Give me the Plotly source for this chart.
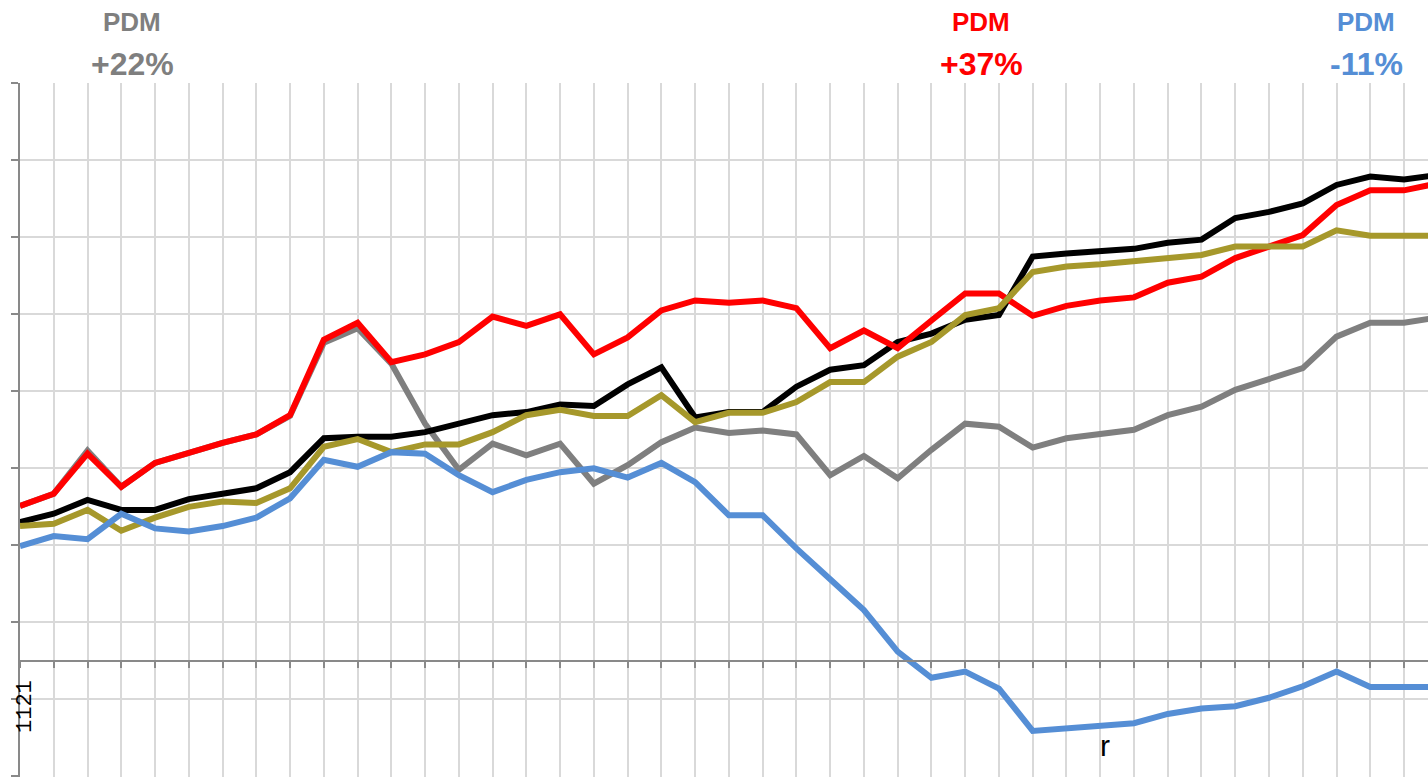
"""Five index lines on a cropped grid, with PDM callouts."""
import plotly.graph_objects as go

# one point per period (43 periods, the last one sits just past the crop)
periods = list(range(43))

red = [20.1, 21.7, 26.9, 22.6, 25.7, 27.1, 28.3, 29.4, 31.9, 41.7,
       43.9, 38.8, 39.8, 41.4, 44.7, 43.5, 45.0, 39.8, 42.0, 45.5,
       46.8, 46.5, 46.8, 45.8, 40.6, 42.9, 40.6, 44.2, 47.7, 47.7,
       44.8, 46.1, 46.8, 47.2, 49.1, 49.9, 52.3, 53.8, 55.3, 59.2,
       61.1, 61.1, 62.0]
black = [18.0, 19.1, 20.9, 19.6, 19.6, 21.0, 21.7, 22.4, 24.5, 28.9,
         29.1, 29.1, 29.7, 30.8, 31.9, 32.3, 33.3, 33.1, 35.9, 38.1,
         31.6, 32.3, 32.3, 35.6, 37.8, 38.4, 41.4, 42.5, 44.3, 44.9,
         52.5, 52.9, 53.2, 53.5, 54.3, 54.7, 57.5, 58.3, 59.4, 61.8,
         62.9, 62.5, 63.1]
olive = [17.5, 17.8, 19.6, 16.9, 18.6, 20.0, 20.7, 20.5, 22.4, 27.8,
         28.8, 27.1, 28.1, 28.1, 29.7, 31.9, 32.6, 31.8, 31.8, 34.5,
         31.0, 32.2, 32.2, 33.6, 36.2, 36.2, 39.5, 41.4, 44.9, 45.8,
         50.5, 51.2, 51.5, 51.9, 52.3, 52.7, 53.8, 53.8, 53.8, 55.9,
         55.2, 55.2, 55.2]
gray = [20.1, 21.7, 27.3, 22.6, 25.7, 27.1, 28.3, 29.4, 31.8, 41.3,
        43.2, 38.6, 30.8, 24.8, 28.2, 26.7, 28.2, 23.0, 25.4, 28.4,
        30.3, 29.6, 29.9, 29.4, 24.1, 26.6, 23.7, 27.4, 30.8, 30.4,
        27.7, 28.9, 29.5, 30.0, 31.9, 33.0, 35.2, 36.7, 38.0, 42.1,
        43.9, 43.9, 44.6]
blue = [14.9, 16.2, 15.8, 19.1, 17.2, 16.8, 17.5, 18.6, 21.1, 26.1,
        25.2, 27.1, 26.9, 24.1, 21.9, 23.5, 24.5, 25.0, 23.8, 25.7,
        23.2, 18.9, 18.9, 14.6, 10.6, 6.6, 1.2, -2.2, -1.4, -3.6,
        -9.1, -8.8, -8.5, -8.1, -6.9, -6.2, -5.9, -4.8, -3.3, -1.4,
        -3.4, -3.4, -3.4]

callout_names = ["PDM", "PDM", "PDM"]
callout_changes = ["+22%", "+37%", "-11%"]

GRAY = "#7F7F7F"
RED = "#FF0000"
BLUE = "#558ED5"
OLIVE = "#A6982B"
BLACK = "#000000"

W, H = 1428, 777
L, T = 20, 83
Y_RANGE = [-15.09, 75.04]
X_RANGE = [0, 41.71]


def px_to_paper(px, py):
    # paper coords are relative to the plot area, not the whole figure
    return (px - L) / (W - L), (H - py) / (H - T)


def add_text(px, py, text, size, color, family="Liberation Sans", angle=0):
    ax, ay = px_to_paper(px, py)
    fig.add_annotation(
        x=ax, y=ay, xref="paper", yref="paper",
        xanchor="center", yanchor="middle",
        text=text, textangle=angle, showarrow=False,
        font=dict(family=family, size=size, color=color),
    )


fig = go.Figure()

# drawing order matters: grey sits under red, blue ends up on top
for vals, color in [(gray, GRAY), (black, BLACK), (red, RED), (olive, OLIVE), (blue, BLUE)]:
    fig.add_trace(go.Scatter(
        x=periods, y=vals, mode="lines",
        line=dict(color=color, width=6),
        hoverinfo="skip", showlegend=False,
    ))

# category axis crosses the value axis at 0, half way between gridlines
x_pos = (0 - Y_RANGE[0]) / (Y_RANGE[1] - Y_RANGE[0])

fig.update_layout(
    width=W, height=H,
    margin=dict(l=L, r=0, t=T, b=0, pad=0),
    plot_bgcolor="white", paper_bgcolor="white",
    xaxis=dict(
        range=X_RANGE, tick0=0, dtick=1,
        showgrid=True, gridcolor="#D9D9D9", gridwidth=2,
        zeroline=False, showticklabels=False,
        showline=True, linecolor="#898989", linewidth=2,
        ticks="outside", ticklen=6, tickwidth=2, tickcolor="#898989",
        anchor="free", position=x_pos,
    ),
    yaxis=dict(
        range=Y_RANGE, tick0=-5, dtick=10,
        showgrid=True, gridcolor="#D9D9D9", gridwidth=2,
        zeroline=False, showticklabels=False,
        showline=True, linecolor="#898989", linewidth=2,
        ticks="outside", ticklen=7, tickwidth=2, tickcolor="#898989",
    ),
)

# PDM callouts above the plot
callout_x = [132, 981, 1366]
callout_colors = [GRAY, RED, BLUE]
for name, change, cx, col in zip(callout_names, callout_changes, callout_x, callout_colors):
    add_text(cx, 22, f"<b>{name}</b>", 26, col)
    add_text(cx, 64, f"<b>{change}</b>", 32, col)

# leftover label fragments visible in the crop
add_text(25, 707, "1121", 22, "black", family="Liberation Mono", angle=-90)
add_text(1105, 745, "r", 30, "black")

# drop the browser's default body margin so the figure sits at 0,0
fig.write_html(
    "out.html",
    config={"displayModeBar": False},
    post_script="document.body.style.margin='0';document.body.style.overflow='hidden';",
)
